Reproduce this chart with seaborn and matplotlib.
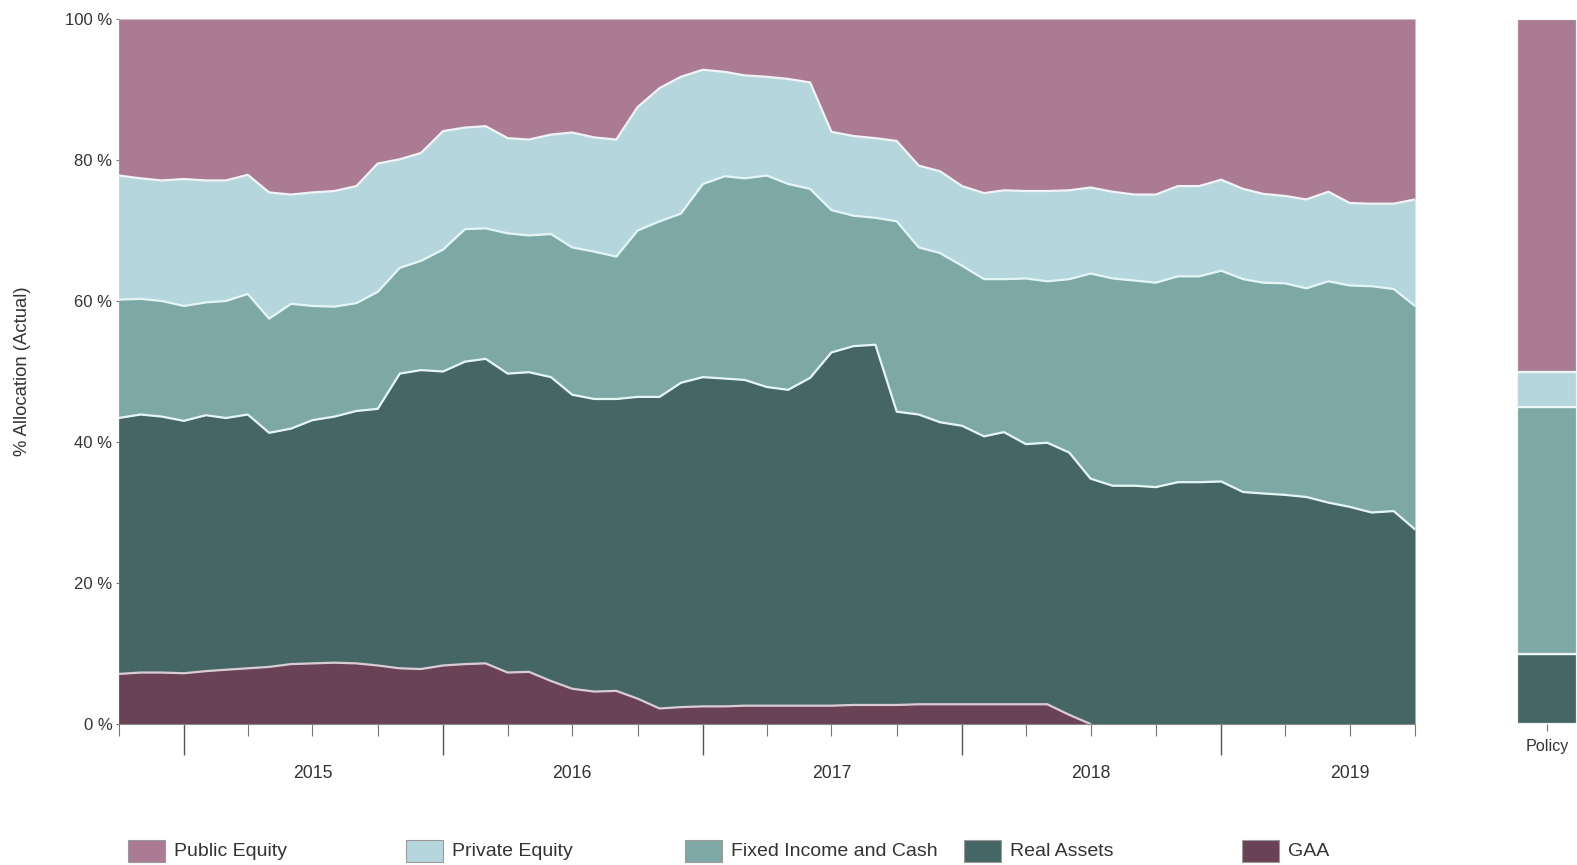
import numpy as np
import pandas as pd
import matplotlib
matplotlib.use("Agg")
import matplotlib.pyplot as plt
import matplotlib.dates as mdates
from matplotlib.patches import Rectangle
from matplotlib.ticker import FuncFormatter, NullFormatter
import seaborn as sns

# monthly allocation (% of total), Oct 2014 .. Oct 2019
months = pd.date_range("2014-10-01", periods=61, freq="MS")

gaa = [7.1, 7.3, 7.3, 7.2, 7.5, 7.7, 7.9, 8.1, 8.5, 8.6, 8.7, 8.6, 8.3, 7.9, 7.8, 8.3,
       8.5, 8.6, 7.3, 7.4, 6.1, 5.0, 4.6, 4.7, 3.6, 2.2, 2.4, 2.5, 2.5, 2.6, 2.6, 2.6,
       2.6, 2.6, 2.7, 2.7, 2.7, 2.8, 2.8, 2.8, 2.8, 2.8, 2.8, 2.8, 1.3, 0, 0, 0,
       0, 0, 0, 0, 0, 0, 0, 0, 0, 0, 0, 0, 0]
real_assets = [36.3, 36.6, 36.3, 35.8, 36.3, 35.7, 36.0, 33.2, 33.4, 34.5, 34.9, 35.8,
               36.4, 41.8, 42.4, 41.7, 42.9, 43.2, 42.4, 42.5, 43.1, 41.7, 41.5, 41.4,
               42.8, 44.2, 46.0, 46.7, 46.5, 46.2, 45.2, 44.8, 46.5, 50.1, 50.9, 51.1,
               41.6, 41.1, 40.0, 39.5, 38.0, 38.6, 36.9, 37.1, 37.2, 34.8, 33.8, 33.8,
               33.6, 34.3, 34.3, 34.4, 32.9, 32.7, 32.5, 32.2, 31.4, 30.8, 30.0, 30.2, 27.6]
fixed_income = [16.8, 16.4, 16.4, 16.3, 16.0, 16.6, 17.1, 16.2, 17.7, 16.2, 15.6, 15.3,
                16.6, 15.0, 15.5, 17.3, 18.8, 18.5, 19.9, 19.4, 20.3, 20.9, 20.9, 20.2,
                23.6, 24.9, 24.0, 27.4, 28.7, 28.6, 30.0, 29.2, 26.8, 20.2, 18.5, 18.0,
                27.0, 23.7, 24.0, 22.7, 22.3, 21.7, 23.5, 22.9, 24.6, 29.1, 29.4, 29.1,
                29.0, 29.2, 29.2, 29.9, 30.2, 29.9, 30.0, 29.6, 31.4, 31.4, 32.1, 31.5, 31.7]
private_equity = [17.6, 17.1, 17.1, 18.0, 17.3, 17.1, 16.9, 17.9, 15.5, 16.1, 16.4, 16.6,
                  18.2, 15.4, 15.3, 16.8, 14.4, 14.5, 13.5, 13.6, 14.1, 16.3, 16.2, 16.6,
                  17.5, 18.9, 19.4, 16.2, 14.8, 14.6, 14.0, 14.9, 15.1, 11.1, 11.3, 11.3,
                  11.4, 11.6, 11.6, 11.3, 12.2, 12.6, 12.4, 12.8, 12.6, 12.2, 12.3, 12.2,
                  12.5, 12.8, 12.8, 12.9, 12.8, 12.6, 12.4, 12.6, 12.7, 11.7, 11.7, 12.1, 15.1]
public_equity = [22.2, 22.6, 22.9, 22.7, 22.9, 22.9, 22.1, 24.6, 24.9, 24.6, 24.4, 23.7,
                 20.5, 19.9, 19.0, 15.9, 15.4, 15.2, 16.9, 17.1, 16.4, 16.1, 16.8, 17.1,
                 12.5, 9.8, 8.2, 7.2, 7.5, 8.0, 8.2, 8.5, 9.0, 16.0, 16.6, 16.9,
                 17.3, 20.8, 21.6, 23.7, 24.7, 24.3, 24.4, 24.4, 24.3, 23.9, 24.5, 24.9,
                 24.9, 23.7, 23.7, 22.8, 24.1, 24.8, 25.1, 25.6, 24.5, 26.1, 26.2, 26.2, 25.6]

# policy targets
policy_assets = ["Public Equity", "Private Equity", "Fixed Income and Cash", "Real Assets", "GAA"]
policy_values = [50, 5, 35, 10, 0]

legend_names = ["Public Equity", "Private Equity", "Fixed Income and Cash", "Real Assets", "GAA"]
colors = {
    "Public Equity": "#ab7b94",
    "Private Equity": "#b4d6dc",
    "Fixed Income and Cash": "#7ea8a6",
    "Real Assets": "#456664",
    "GAA": "#6a4256",
}

sns.set_theme(style="white")
plt.rcParams["font.family"] = ["Liberation Sans", "DejaVu Sans"]
txt = "#333333"

fig = plt.figure(figsize=(15.77, 8.65), dpi=100)
ax = fig.add_axes([118.6 / 1577, 141 / 865, 1296.4 / 1577, 705 / 865])

# bottom -> top
stack_order = ["GAA", "Real Assets", "Fixed Income and Cash", "Private Equity", "Public Equity"]
series = [gaa, real_assets, fixed_income, private_equity, public_equity]
ax.stackplot(months, *series, colors=[colors[k] for k in stack_order], linewidth=0)

# white-ish separator lines on the layer boundaries
cum = np.cumsum(np.array(series), axis=0)
g = np.array(gaa, dtype=float)
gaa_line = cum[0].copy()
gaa_line[1:][(g[1:] == 0) & (g[:-1] == 0)] = np.nan  # no line once GAA is gone
boundaries = [gaa_line, cum[1], cum[2], cum[3]]
for row, col in zip(boundaries, ["#d9cdd3", "#e4f5f5", "#e4f5f5", "#f0f4f6"]):
    ax.plot(months, row, color=col, lw=1.6)

ax.set_xlim(months[0], months[-1])
ax.set_ylim(0, 100)
ax.set_yticks([0, 20, 40, 60, 80, 100])
ax.set_yticklabels([f"{v} %" for v in [0, 20, 40, 60, 80, 100]])
ax.tick_params(axis="y", length=2.5, width=0.8, color="#777777", pad=2,
               labelsize=12, labelcolor=txt, left=True)

ax.xaxis.set_major_locator(mdates.YearLocator())
ax.xaxis.set_major_formatter(NullFormatter())
ax.xaxis.set_minor_locator(mdates.MonthLocator(bymonth=[1, 4, 7, 10]))


def year_label(v, pos):
    d = mdates.num2date(v)
    return str(d.year) if d.month == 7 else ""


ax.xaxis.set_minor_formatter(FuncFormatter(year_label))
ax.tick_params(axis="x", which="major", length=22, width=1.0, color="#555555", bottom=True)
ax.tick_params(axis="x", which="minor", length=8.5, width=0.8, color="#777777",
               pad=21, labelsize=12.7, labelcolor=txt, bottom=True)

for s in ["top", "right", "left"]:
    ax.spines[s].set_visible(False)
ax.spines["bottom"].set_color("#888888")
ax.spines["bottom"].set_linewidth(0.8)
ax.grid(False)

fig.text(22.5 / 1577, (865 - 371.5) / 865, "% Allocation (Actual)", rotation=90,
         ha="center", va="center", fontsize=13.3, color=txt)

# policy column
pax = fig.add_axes([1517 / 1577, 141 / 865, 60 / 1577, 705 / 865])
policy = pd.DataFrame({"col": "Policy", "asset": policy_assets, "weight": policy_values})
policy = policy[policy["weight"] > 0]
sns.histplot(data=policy, x="col", hue="asset", weights="weight", multiple="stack",
             discrete=True, shrink=1.0, hue_order=list(policy["asset"]),
             palette=colors, edgecolor="#eef6f7", linewidth=1.6, alpha=1,
             legend=False, ax=pax)
pax.set_xlim(-0.5, 0.5)
pax.set_ylim(0, 100)
pax.set_xlabel("")
pax.set_ylabel("")
pax.set_yticks([])
pax.tick_params(axis="x", length=5, width=0.8, color="#777777", pad=6,
                labelsize=11.6, labelcolor=txt, bottom=True)
for s in pax.spines.values():
    s.set_visible(False)

# legend row
for k, name in enumerate(legend_names):
    x0 = 127.7 + 278.6 * k
    fig.add_artist(Rectangle((x0 / 1577, 3 / 865), 37 / 1577, 22 / 865,
                             transform=fig.transFigure, facecolor=colors[name],
                             edgecolor="#9a9a9a", linewidth=0.8))
    fig.text((x0 + 46) / 1577, 14 / 865, name, ha="left", va="center",
             fontsize=14, color=txt)

fig.savefig("out.png", dpi=100)
